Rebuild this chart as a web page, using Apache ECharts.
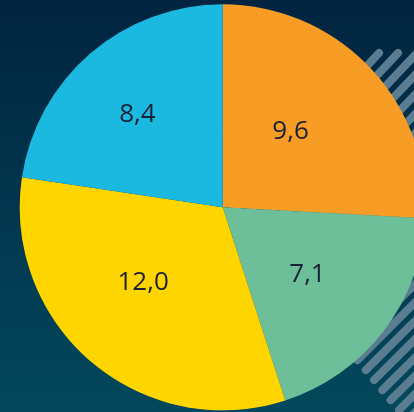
<!DOCTYPE html>
<html>
<head>
<meta charset="utf-8">
<script src="https://cdn.jsdelivr.net/npm/echarts@6/dist/echarts.min.js"></script>
<style>
html,body{margin:0;padding:0;}
#chart{width:414px;height:412px;}
</style>
</head>
<body>
<div id="chart"></div>
<script>
// Data
var categories = ['A', 'B', 'C', 'D'];
var values = [9.6, 7.1, 12.0, 8.4];
var labels = ['9,6', '7,1', '12,0', '8,4'];

// Styles
var colors = ['#f79c24', '#6cbf99', '#ffd500', '#1bb9e0'];
var labelOffsets = [[-8, -4], [2, 4], [-12, -4], [-17, -14]];

var chart = echarts.init(document.getElementById('chart'), null, {renderer: 'canvas'});

// decorative stripes
var stripes = [];
for (var k = 0; k < 24; k++) {
  var c = 432 + k * 19;
  var tx = c - 53, ty = 53;
  var s = (c - 732) / 19;
  var bx = 364 + s * 8.3, by = 368 + s * 10;
  stripes.push({
    type: 'line',
    silent: true,
    z: -1,
    shape: {x1: bx, y1: by, x2: tx, y2: ty},
    style: {stroke: '#5a7d92', lineWidth: 8, lineCap: 'round'}
  });
}

chart.setOption({
  backgroundColor: {
    type: 'linear', x: 0, y: 0, x2: 0, y2: 1,
    colorStops: [{offset: 0, color: '#012440'}, {offset: 1, color: '#03485c'}]
  },
  animation: false,
  graphic: [{type: 'group', z: -1, children: stripes}],
  series: [{
    type: 'pie',
    center: [222.7, 207.3],
    radius: [0, 203],
    startAngle: 90,
    clockwise: true,
    avoidLabelOverlap: false,
    labelLine: {show: false},
    itemStyle: {borderWidth: 0},
    emphasis: {disabled: true},
    data: categories.map(function (cat, i) {
      return {
        name: cat,
        value: values[i],
        itemStyle: {color: colors[i]},
        label: {
          show: true,
          position: 'inside',
          formatter: labels[i],
          offset: labelOffsets[i],
          color: '#1a2038',
          fontSize: 26,
          fontFamily: 'Open Sans',
          fontWeight: 'normal'
        }
      };
    })
  }]
});
</script>
</body>
</html>
